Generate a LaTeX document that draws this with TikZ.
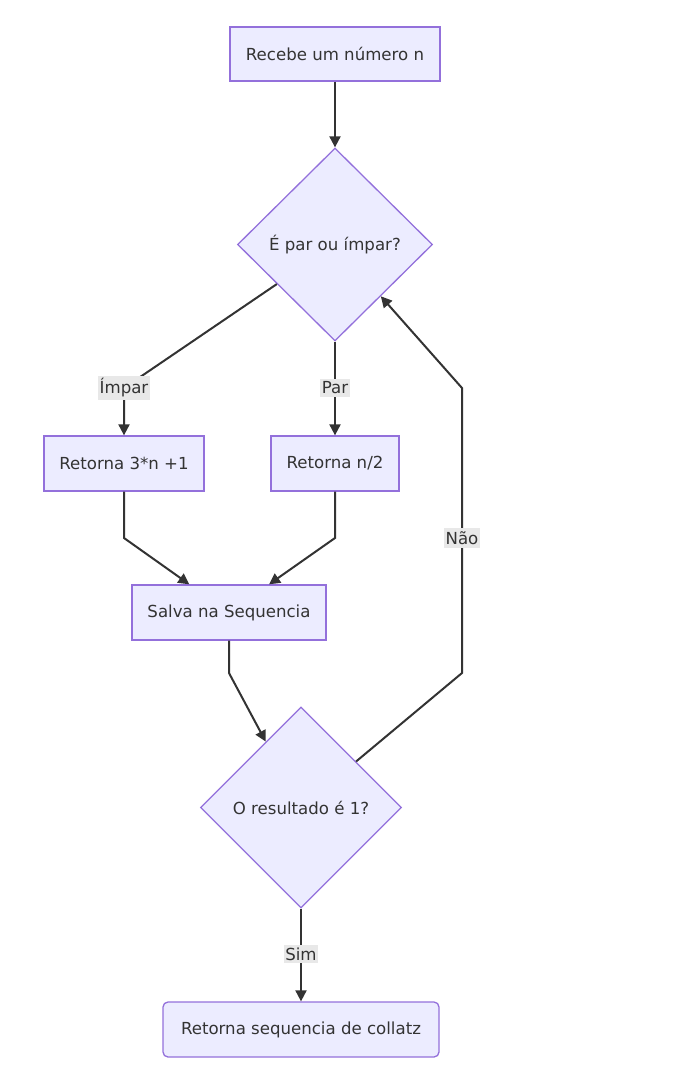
\documentclass[tikz,border=0pt]{standalone}
\usepackage{fontspec}
\setmainfont{DejaVu Sans}
\usetikzlibrary{shapes.geometric,arrows.meta}
\definecolor{nfill}{HTML}{ECECFF}
\definecolor{nstroke}{HTML}{9370DB}
\definecolor{edgec}{HTML}{333333}
\definecolor{lblc}{HTML}{E8E8E8}
\begin{document}
\begin{tikzpicture}[x=1pt,y=-1pt,
  font=\fontsize{16.6}{19}\selectfont,
  box/.style={draw=nstroke, fill=nfill, line width=1.3pt, rectangle, inner sep=0pt, text=edgec},
  dec/.style={draw=nstroke, fill=nfill, line width=1.3pt, diamond, inner sep=0pt, text=edgec},
  conn/.style={draw=edgec, line width=2pt, -{Triangle[length=11pt,width=11pt]}},
  lab/.style={fill=lblc, inner xsep=1.5pt, inner ysep=3pt, text=edgec}]
\useasboundingbox (0,0) rectangle (672,1076);

\node[box, minimum width=210pt, minimum height=54pt] (A) at (335,54) {Recebe um número n};
\node[dec, minimum width=195pt, minimum height=193pt] (B) at (335,244.5) {É par ou ímpar?};
\node[box, minimum width=160pt, minimum height=55pt] (C) at (124,463.5) {Retorna 3*n +1};
\node[box, minimum width=128pt, minimum height=55pt] (D) at (335,463.5) {Retorna n/2};
\node[box, minimum width=194pt, minimum height=55pt] (E) at (229,612.5) {Salva na Sequencia};
\node[dec, minimum width=201pt, minimum height=201pt] (F) at (301,807.5) {O resultado é 1?};
\node[box, rounded corners=5pt, minimum width=276pt, minimum height=55pt] (G) at (301,1029.5) {Retorna sequencia de collatz};

\coordinate (k1) at (124,388);
\coordinate (k2) at (335,388);
\coordinate (k3) at (124,538);
\coordinate (k4) at (335,538);
\coordinate (k5) at (229,673);
\coordinate (k6) at (462,673);
\coordinate (k7) at (462,388);
\coordinate (k8) at (462,538);
\coordinate (k9) at (301,954);

\draw[conn] (A) -- (B);
\draw[conn] (B) -- (k1) -- (C);
\draw[conn] (B) -- (D);
\draw[conn] (C) -- (k3) -- (E);
\draw[conn] (D) -- (k4) -- (E);
\draw[conn] (E) -- (k5) -- (F);
\draw[conn] (F) -- (k6) -- (k7) -- (B);
\draw[conn] (F) -- (G);

\node[lab] (l1) at (k1) {Ímpar};
\node[lab] (l2) at (k2) {Par};
\node[lab] (l3) at (k8) {Não};
\node[lab] (l4) at (k9) {Sim};
\end{tikzpicture}
\end{document}
